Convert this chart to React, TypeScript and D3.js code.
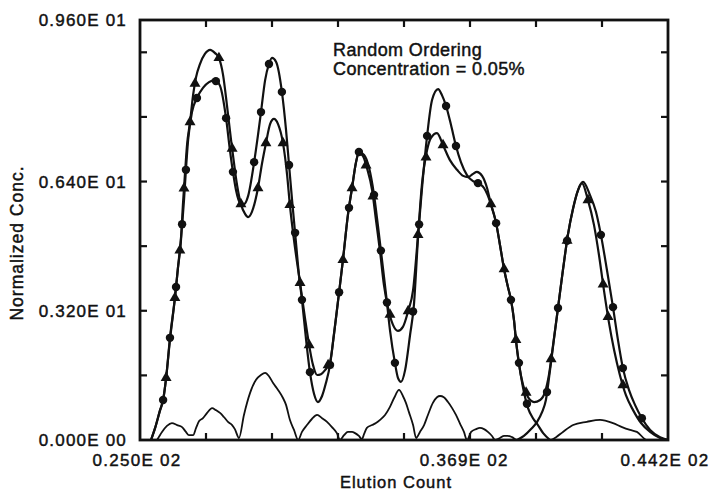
import React, { useEffect, useRef } from 'react';
import * as d3 from 'd3';

const W = 716;
const H = 493;
const margin = { top: 20, right: 48, bottom: 53, left: 140 };

// elution count vs normalized concentration
const triCurve: [number, number][] = [
  [25.40, 0.00], [25.55, 0.30], [25.73, 0.74], [25.84, 0.99], [25.95, 1.54], [26.09, 2.48],
  [26.27, 3.52], [26.38, 4.26], [26.49, 4.95], [26.56, 5.82], [26.64, 6.64], [26.71, 7.30],
  [26.82, 7.87], [26.93, 8.54], [27.04, 8.99], [27.18, 9.31], [27.36, 9.56], [27.55, 9.66],
  [27.73, 9.58], [27.87, 9.46], [28.02, 9.04], [28.16, 8.30], [28.31, 7.43], [28.38, 7.06],
  [28.53, 6.31], [28.67, 5.84], [28.82, 5.60], [28.93, 5.52], [29.07, 5.65], [29.29, 6.24],
  [29.44, 6.86], [29.58, 7.35], [29.73, 7.82], [29.87, 7.95], [30.02, 7.82], [30.20, 7.35],
  [30.35, 6.56], [30.45, 5.82], [30.60, 4.95], [30.82, 3.89], [31.00, 3.02], [31.15, 2.35],
  [31.29, 1.86], [31.44, 1.61], [31.58, 1.63], [31.73, 1.73], [31.91, 1.93], [32.05, 2.60],
  [32.24, 3.66], [32.38, 4.46], [32.56, 5.57], [32.71, 6.24], [32.85, 6.86], [32.96, 7.11],
  [33.11, 7.03], [33.25, 6.74], [33.44, 6.19], [33.58, 5.45], [33.73, 4.66], [33.87, 3.84],
  [34.02, 3.27], [34.20, 2.85], [34.38, 2.70], [34.56, 2.80], [34.75, 3.19], [34.93, 3.71],
  [35.11, 5.08], [35.25, 6.31], [35.44, 7.18], [35.58, 7.48], [35.80, 7.60], [36.02, 7.30],
  [36.27, 6.93], [36.53, 6.69], [36.75, 6.54], [36.93, 6.51], [37.11, 6.59], [37.25, 6.64],
  [37.44, 6.54], [37.62, 6.24], [37.76, 5.84], [37.95, 5.37], [38.09, 4.83], [38.24, 4.23],
  [38.38, 3.79], [38.49, 3.47], [38.60, 2.97], [38.67, 2.48], [38.78, 1.88], [38.93, 1.36],
  [39.11, 1.06], [39.33, 0.94], [39.55, 0.99], [39.73, 1.19], [39.87, 1.61], [40.02, 2.35],
  [40.20, 3.27], [40.38, 4.21], [40.56, 5.08], [40.75, 5.74], [40.93, 6.19], [41.07, 6.36],
  [41.29, 5.94], [41.51, 5.32], [41.69, 4.58], [41.87, 3.71], [42.05, 2.92], [42.24, 2.23],
  [42.45, 1.61], [42.67, 1.11], [42.93, 0.74], [43.22, 0.42], [43.55, 0.20], [43.91, 0.05],
  [44.20, 0.00],
];

// the dot series is drawn in two pieces that cross in the 4th valley
const dotCurveA: [number, number][] = [
  [25.40, 0.00], [25.55, 0.30], [25.73, 0.74], [25.84, 0.99], [25.95, 1.54], [26.09, 2.53],
  [26.27, 3.52], [26.38, 4.26], [26.49, 5.00], [26.60, 5.94], [26.67, 6.69], [26.75, 7.43],
  [26.89, 8.12], [27.07, 8.47], [27.29, 8.72], [27.51, 8.86], [27.73, 8.91], [27.91, 8.77],
  [28.13, 7.97], [28.27, 7.18], [28.38, 6.64], [28.49, 6.19], [28.64, 5.87], [28.78, 5.84],
  [28.93, 6.04], [29.15, 6.88], [29.29, 7.55], [29.40, 8.12], [29.55, 8.91], [29.69, 9.31],
  [29.80, 9.46], [29.95, 9.36], [30.16, 8.62], [30.31, 7.68], [30.42, 6.81], [30.53, 5.94],
  [30.64, 5.13], [30.78, 4.09], [30.89, 3.47], [31.04, 2.48], [31.18, 1.68], [31.33, 1.14],
  [31.47, 0.94], [31.62, 1.09], [31.76, 1.41], [31.91, 1.86], [32.05, 2.60], [32.24, 3.66],
  [32.38, 4.46], [32.56, 5.57], [32.71, 6.24], [32.85, 6.86], [32.96, 7.13], [33.15, 7.06],
  [33.33, 6.74], [33.51, 6.07], [33.65, 5.32], [33.80, 4.46], [33.95, 3.59], [34.09, 2.72],
  [34.27, 1.91], [34.38, 1.54], [34.49, 1.44], [34.64, 1.73], [34.82, 2.60], [34.96, 3.34],
  [35.11, 5.00], [35.25, 6.19], [35.44, 7.53], [35.62, 8.42], [35.84, 8.69], [35.98, 8.54],
  [36.13, 8.27], [36.31, 7.80], [36.49, 7.28], [36.67, 6.88], [36.89, 6.56], [37.11, 6.41],
  [37.29, 6.36], [37.51, 6.24], [37.76, 5.84], [37.95, 5.37], [38.09, 4.83], [38.24, 4.23],
  [38.38, 3.79], [38.49, 3.47], [38.60, 2.97], [38.67, 2.48], [38.78, 1.91], [38.96, 1.19],
  [39.11, 0.79], [39.29, 0.54], [39.44, 0.40], [39.66, 0.17], [39.91, 0.00],
];

const dotCurveB: [number, number][] = [
  [38.71, 0.00], [38.96, 0.10], [39.22, 0.27], [39.44, 0.45], [39.62, 0.69], [39.76, 0.99],
  [39.91, 1.73], [40.05, 2.48], [40.20, 3.27], [40.38, 4.21], [40.56, 5.08], [40.75, 5.74],
  [40.93, 6.19], [41.11, 6.39], [41.36, 6.07], [41.58, 5.65], [41.76, 5.08], [41.98, 4.21],
  [42.20, 3.29], [42.38, 2.48], [42.56, 1.78], [42.78, 1.24], [43.00, 0.87], [43.25, 0.54],
  [43.55, 0.25], [43.91, 0.07], [44.20, 0.00],
];

// difference trace along the bottom
const diffCurve: [number, number][] = [
  [25.62, 0.00], [25.80, 0.20], [25.98, 0.35], [26.16, 0.42], [26.35, 0.37], [26.53, 0.32],
  [26.67, 0.20], [26.78, 0.12], [26.93, 0.12], [27.04, 0.30], [27.15, 0.47], [27.29, 0.54],
  [27.44, 0.67], [27.62, 0.79], [27.76, 0.74], [27.91, 0.67], [28.05, 0.57], [28.20, 0.45],
  [28.35, 0.37], [28.45, 0.27], [28.60, 0.05], [28.78, 0.62], [29.00, 1.16], [29.22, 1.49],
  [29.40, 1.61], [29.55, 1.66], [29.69, 1.58], [29.84, 1.41], [30.02, 1.24], [30.20, 1.04],
  [30.31, 0.87], [30.45, 0.50], [30.60, 0.25], [30.75, 0.00], [30.89, 0.20], [31.07, 0.37],
  [31.25, 0.52], [31.44, 0.62], [31.62, 0.54], [31.80, 0.45], [31.98, 0.32], [32.16, 0.17],
  [32.27, 0.00], [32.42, 0.12], [32.56, 0.20], [32.71, 0.20], [32.82, 0.17], [32.96, 0.10],
  [33.07, 0.02], [33.15, 0.15], [33.25, 0.30], [33.44, 0.37], [33.58, 0.42], [33.73, 0.50],
  [33.91, 0.62], [34.09, 0.82], [34.24, 1.04], [34.42, 1.24], [34.56, 1.09], [34.67, 0.92],
  [34.78, 0.69], [34.93, 0.37], [35.04, 0.05], [35.18, 0.20], [35.33, 0.37], [35.47, 0.62],
  [35.65, 0.92], [35.80, 1.06], [35.91, 1.09], [36.05, 1.06], [36.20, 0.94], [36.35, 0.79],
  [36.49, 0.62], [36.64, 0.40], [36.78, 0.20], [36.89, 0.00], [37.04, 0.20], [37.22, 0.27],
  [37.36, 0.30], [37.51, 0.27], [37.65, 0.20], [37.80, 0.10], [37.91, 0.00], [38.09, 0.05],
  [38.24, 0.10], [38.38, 0.10], [38.53, 0.07], [38.71, 0.00], [39.91, 0.00], [40.13, 0.07],
  [40.38, 0.20], [40.75, 0.37], [41.25, 0.45], [41.73, 0.50], [42.20, 0.42], [42.53, 0.32],
  [42.82, 0.25], [43.07, 0.20], [43.44, 0.00], [44.20, 0.00],
];

// where the symbols sit (elution count)
const triMarks = [
  25.95, 26.27, 26.45, 26.60, 26.82, 27.00, 27.87, 28.35, 28.67, 29.29, 29.58, 30.20, 30.45,
  30.82, 31.15, 31.84, 32.38, 32.71, 33.22, 33.47, 34.09, 34.75, 35.11, 35.40, 36.02, 37.76,
  38.24, 38.67, 39.04, 39.95, 40.53, 41.29, 41.84, 42.02, 42.56,
];
const dotMarksA = [
  25.84, 26.09, 26.31, 26.53, 26.67, 27.07, 27.76, 28.13, 28.38, 29.15, 29.40, 29.69, 30.16,
  30.42, 30.64, 30.89, 31.18, 31.91, 32.24, 32.60, 32.96, 33.51, 33.76, 33.98, 34.27, 34.93,
  35.15, 35.44, 36.13, 36.49, 37.29, 37.95, 38.49, 38.78, 39.07,
];
const dotMarksB = [39.80, 40.20, 40.53, 41.76, 42.20, 42.56, 43.25];

const xTicks = [25.0, 27.4, 29.8, 32.2, 34.6, 37.0, 39.4, 41.8, 44.2];
const yTicks = [0, 1.6, 3.2, 4.8, 6.4, 8.0, 9.6];
const xLabels: [number, string][] = [[25.0, '0.250E 02'], [36.9, '0.369E 02'], [44.2, '0.442E 02']];
const yLabels: [number, string][] = [[0, '0.000E 00'], [3.2, '0.320E 01'], [6.4, '0.640E 01'], [10.4, '0.960E 01']];
const yMax = 10.4;

const FONT = "'Liberation Sans', Arial, Helvetica, sans-serif";
const INK = '#111';

export default function App() {
  const ref = useRef<SVGSVGElement>(null);

  useEffect(() => {
    const svg = d3.select(ref.current);
    svg.selectAll('*').remove();

    const x = d3.scaleLinear().domain([25.0, 44.2]).range([margin.left, W - margin.right]);
    const y = d3.scaleLinear().domain([0, yMax]).range([H - margin.bottom, margin.top]);
    const x0 = x.range()[0], x1 = x.range()[1];
    const y0 = y.range()[0], y1 = y.range()[1];

    const line = d3.line<[number, number]>()
      .x(d => x(d[0]))
      .y(d => y(d[1]))
      .curve(d3.curveMonotoneX);

    const g = svg.append('g');

    // curves
    [triCurve, dotCurveA, dotCurveB].forEach(c => {
      g.append('path').datum(c).attr('d', line)
        .attr('fill', 'none').attr('stroke', INK).attr('stroke-width', 2.2);
    });
    g.append('path').datum(diffCurve).attr('d', line)
      .attr('fill', 'none').attr('stroke', INK).attr('stroke-width', 1.8);

    // symbols: y taken from the series at the mark position
    const along = (c: [number, number][]) =>
      d3.scaleLinear().domain(c.map(d => d[0])).range(c.map(d => d[1]));

    const dotPts = [
      ...dotMarksA.map(v => [v, along(dotCurveA)(v)]),
      ...dotMarksB.map(v => [v, along(dotCurveB)(v)]),
    ];
    g.selectAll('circle.dot').data(dotPts).enter().append('circle')
      .attr('cx', d => x(d[0])).attr('cy', d => y(d[1])).attr('r', 4.2)
      .attr('fill', INK);

    const triAt = along(triCurve);
    const tri = d3.symbol().type(d3.symbolTriangle).size(52);
    g.selectAll('path.tri').data(triMarks).enter().append('path')
      .attr('d', tri)
      .attr('transform', v => `translate(${x(v)},${y(triAt(v))})`)
      .attr('fill', INK);

    // frame
    svg.append('rect')
      .attr('x', x0).attr('y', y1).attr('width', x1 - x0).attr('height', y0 - y1)
      .attr('fill', 'none').attr('stroke', INK).attr('stroke-width', 2.8);

    // inward ticks on all four sides
    const tl = 7;
    xTicks.slice(1, -1).forEach(v => {
      svg.append('line').attr('x1', x(v)).attr('x2', x(v)).attr('y1', y0).attr('y2', y0 - tl)
        .attr('stroke', INK).attr('stroke-width', 2.2);
      svg.append('line').attr('x1', x(v)).attr('x2', x(v)).attr('y1', y1).attr('y2', y1 + tl)
        .attr('stroke', INK).attr('stroke-width', 2.2);
    });
    yTicks.slice(1).forEach(v => {
      svg.append('line').attr('x1', x0).attr('x2', x0 + tl).attr('y1', y(v)).attr('y2', y(v))
        .attr('stroke', INK).attr('stroke-width', 2.2);
      svg.append('line').attr('x1', x1).attr('x2', x1 - tl).attr('y1', y(v)).attr('y2', y(v))
        .attr('stroke', INK).attr('stroke-width', 2.2);
    });

    // tick labels (a thin stroke thickens them like the scanned print)
    const txt = (sel: any) => sel.attr('font-family', FONT).attr('fill', INK)
      .attr('stroke', INK).attr('stroke-width', 0.45);
    yLabels.forEach(([v, t]) => {
      svg.append('text').call(txt)
        .attr('x', x0 - 13).attr('y', y(v) + 6)
        .attr('text-anchor', 'end').attr('font-size', 17).attr('letter-spacing', 1.2)
        .text(t);
    });
    xLabels.forEach(([v, t]) => {
      svg.append('text').call(txt)
        .attr('x', x(v) - 3).attr('y', y0 + 26)
        .attr('text-anchor', 'middle').attr('font-size', 17).attr('letter-spacing', 1.3)
        .text(t);
    });

    // axis titles
    svg.append('text').call(txt)
      .attr('x', (x0 + x1) / 2 - 8).attr('y', 488)
      .attr('text-anchor', 'middle').attr('font-size', 16.5).attr('letter-spacing', 1)
      .text('Elution Count');
    svg.append('text').call(txt)
      .attr('transform', `translate(23,${(y0 + y1) / 2 + 13}) rotate(-90)`)
      .attr('text-anchor', 'middle').attr('font-size', 17.5).attr('letter-spacing', 1)
      .text('Normalized Conc.');

    // note
    const note = svg.append('text').call(txt).attr('font-size', 18).attr('letter-spacing', 0.4);
    note.append('tspan').attr('x', 333).attr('y', 56).text('Random Ordering');
    note.append('tspan').attr('x', 333).attr('y', 75).text('Concentration = 0.05%');
  }, []);

  return (
    <svg ref={ref} width={W} height={H}
      style={{ position: 'absolute', left: 0, top: 0, background: '#fff' }} />
  );
}
